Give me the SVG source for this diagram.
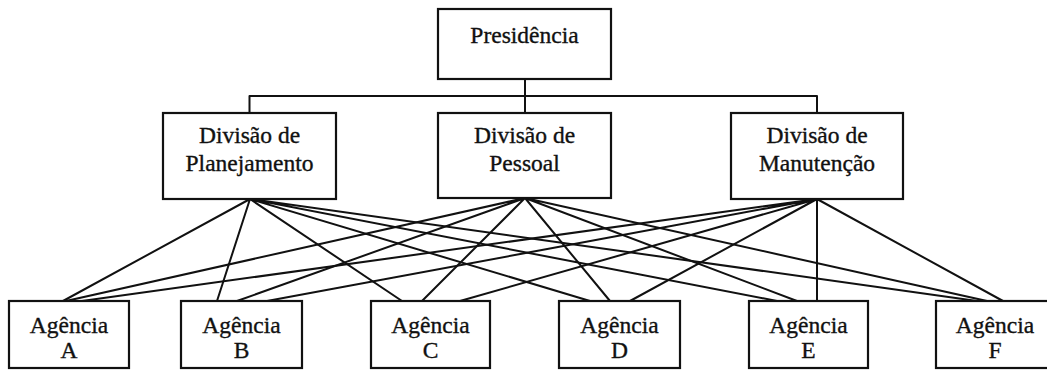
<svg xmlns="http://www.w3.org/2000/svg" width="1047" height="370" viewBox="0 0 1047 370">
<style>
.box{fill:#fff;stroke:#111;stroke-width:2.2}
.t{font-family:"Liberation Serif","Times New Roman",serif;font-size:23.5px;fill:#111;stroke:#111;stroke-width:0.35;text-anchor:middle}
.c{stroke:#111;stroke-width:2;fill:none;stroke-linecap:round}
</style>
<rect width="1047" height="370" fill="#fff"/>
<g id="connectors">
<path class="c" d="M525 79V113M249.5 96H817M249.5 96V113M817 96V113"/>
<path class="c" d="M250 199L63 301M250 199L217 301M250 199L402 301M250 199L590 301M250 199L777 301M250 199L977 301"/>
<path class="c" d="M525 198L66 301M525 198L237 301M525 198L422 301M525 198L610 301M525 198L797 301M525 198L987 301"/>
<path class="c" d="M817 199L82 301M817 199L267 301M817 199L460 301M817 199L630 301M817 199L817 301M817 199L1003 301"/>
</g>
<g id="presidencia"><rect class="box" x="438" y="9" width="173" height="70"/><text class="t" x="524.5" y="43">Presidência</text></g>
<g id="div-planejamento"><rect class="box" x="163" y="113" width="173" height="86"/><text class="t" x="249.5" y="143">Divisão de</text><text class="t" x="249.5" y="171">Planejamento</text></g>
<g id="div-pessoal"><rect class="box" x="438" y="113" width="173" height="85"/><text class="t" x="524.5" y="143">Divisão de</text><text class="t" x="524.5" y="171">Pessoal</text></g>
<g id="div-manutencao"><rect class="box" x="731" y="113" width="172" height="86"/><text class="t" x="817" y="143">Divisão de</text><text class="t" x="817" y="171">Manutenção</text></g>
<g id="agencia-a"><rect class="box" x="9" y="301" width="120" height="67"/><text class="t" x="69" y="333">Agência</text><text class="t" x="69" y="358">A</text></g>
<g id="agencia-b"><rect class="box" x="181" y="301" width="121" height="67"/><text class="t" x="241.5" y="333">Agência</text><text class="t" x="241.5" y="358">B</text></g>
<g id="agencia-c"><rect class="box" x="371" y="301" width="119" height="67"/><text class="t" x="430.5" y="333">Agência</text><text class="t" x="430.5" y="358">C</text></g>
<g id="agencia-d"><rect class="box" x="559" y="301" width="121" height="67"/><text class="t" x="619.5" y="333">Agência</text><text class="t" x="619.5" y="358">D</text></g>
<g id="agencia-e"><rect class="box" x="749" y="301" width="119" height="67"/><text class="t" x="808.5" y="333">Agência</text><text class="t" x="808.5" y="358">E</text></g>
<g id="agencia-f"><rect class="box" x="936" y="301" width="120" height="67"/><text class="t" x="995" y="333">Agência</text><text class="t" x="995" y="358">F</text></g>
</svg>
